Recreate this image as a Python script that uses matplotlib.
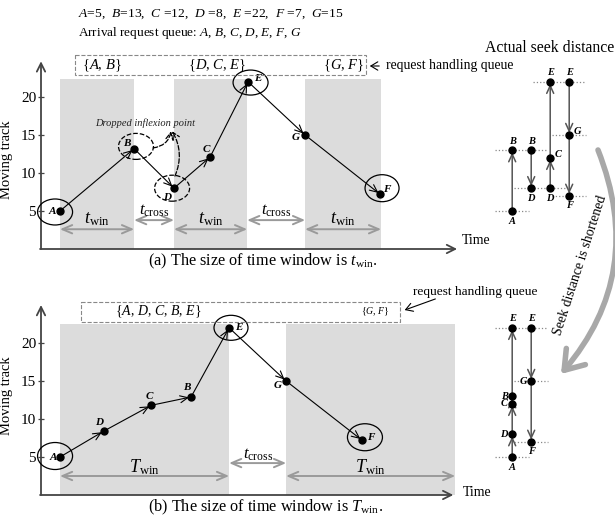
import matplotlib.pyplot as plt
import matplotlib.transforms as mtransforms
from matplotlib.patches import Ellipse, Rectangle, FancyArrowPatch

plt.rcParams['font.family'] = 'Liberation Serif'
plt.rcParams['mathtext.fontset'] = 'custom'
plt.rcParams['mathtext.rm'] = 'Liberation Serif'
plt.rcParams['mathtext.it'] = 'Liberation Serif:italic'
plt.rcParams['mathtext.bf'] = 'Liberation Serif:bold'

# request -> track
names = ['A', 'B', 'C', 'D', 'E', 'F', 'G']
tracks = [5, 13, 12, 8, 22, 7, 15]
track_of = dict(zip(names, tracks))

# (a) window size t_win
order_a = ['A', 'B', 'D', 'C', 'E', 'G', 'F']
time_a = [1, 4.9, 7, 8.9, 10.9, 13.9, 17.85]
track_a = [5, 13.2, 8, 12.1, 22, 15, 7.2]
windows_a = [(1, 4.9), (7, 10.85), (13.9, 17.9)]
win_top_a = 22.4
seek_a = [['A', 'B'], ['B', 'D'], ['D', 'C', 'E'], ['E', 'G', 'F']]
guides_a = ['A', 'B', 'D', 'E', 'G', 'F']

# (b) window size T_win
order_b = ['A', 'D', 'C', 'B', 'E', 'G', 'F']
time_b = [1, 3.3, 5.8, 7.9, 9.9, 12.9, 16.9]
track_b = [5, 8.4, 11.8, 12.9, 22, 15, 7.2]
windows_b = [(1, 9.9), (12.9, 21.8)]
win_top_b = 22.5
seek_b = [['A', 'D', 'C', 'B', 'E'], ['E', 'G', 'F']]
guides_b = ['E', 'G', 'F', 'A']

W, H = 615, 520
fig = plt.figure(figsize=(W / 100, H / 100), dpi=100)
px = mtransforms.Affine2D().scale(1 / W, -1 / H).translate(0, 1) + fig.transFigure

YTOP = 25.2
ax_a = fig.add_axes([41 / W, (H - 249) / H, 418 / W, YTOP * 7.6 / H])
ax_b = fig.add_axes([41 / W, (H - 495) / H, 418 / W, YTOP * 7.6 / H])
XU, YU = 19.0, 7.6  # pixels per data unit

GRAY = '#dcdcdc'
AX_COL = '#444444'


def setup(ax, arrow_y, arrow_x, label_y):
    ax.set_xlim(0, 22)
    ax.set_ylim(0, YTOP)
    for s in ax.spines.values():
        s.set_visible(False)
    ax.set_xticks([])
    ax.set_yticks([5, 10, 15, 20])
    ax.tick_params(axis='y', direction='inout', length=5, width=0.9,
                   color=AX_COL, labelsize=11, pad=1)
    ax.annotate('', xy=(0, arrow_y), xytext=(0, 0), annotation_clip=False,
                arrowprops=dict(arrowstyle='->,head_length=0.6,head_width=0.3',
                                lw=1.3, color=AX_COL, shrinkA=0, shrinkB=0))
    ax.annotate('', xy=(arrow_x, 0), xytext=(-0.05, 0), annotation_clip=False,
                arrowprops=dict(arrowstyle='->,head_length=0.6,head_width=0.3',
                                lw=1.3, color=AX_COL, shrinkA=0, shrinkB=0))
    ax.set_ylabel('Moving track', fontsize=10.5)
    ax.yaxis.set_label_coords(-0.066, label_y)


def draw_route(ax, xs, ys, order, offs):
    for i in range(len(xs) - 1):
        ax.annotate('', xy=(xs[i + 1], ys[i + 1]), xytext=(xs[i], ys[i]),
                    annotation_clip=False,
                    arrowprops=dict(arrowstyle='->,head_length=0.55,head_width=0.25',
                                    lw=0.8, color='black', shrinkA=0, shrinkB=1.5))
    ax.plot(xs, ys, 'o', color='black', ms=5, zorder=6, clip_on=False)
    for n, x, y in zip(order, xs, ys):
        dx, dy = offs[n]
        ax.annotate(n, (x, y), xytext=(dx, dy), textcoords='offset pixels',
                    ha='center', va='center', fontsize=8, fontstyle='italic',
                    fontweight='bold', annotation_clip=False)


def draw_seek(ax, cols, xcols, guides, mid_side):
    levels = {}
    for col, x in zip(cols, xcols):
        ys = [track_of[n] for n in col]
        for i in range(len(col) - 1):
            ax.annotate('', xy=(x, ys[i + 1]), xytext=(x, ys[i]),
                        annotation_clip=False,
                        arrowprops=dict(arrowstyle='->,head_length=0.55,head_width=0.25',
                                        lw=1.1, color='#555555', shrinkA=0, shrinkB=1.5))
        ax.plot([x] * len(ys), ys, 'o', color='black', ms=5, zorder=6, clip_on=False)
        hi = max(ys[0], ys[-1])
        for k, (n, y) in enumerate(zip(col, ys)):
            if k in (0, len(col) - 1):
                off = (0, 9) if y == hi else (0, -10)
            else:
                off = (8, 3) if mid_side == 'right' else (-8, 0)
            ax.annotate(n, (x, y), xytext=off, textcoords='offset pixels',
                        ha='center', va='center', fontsize=7.5, fontstyle='italic',
                        fontweight='bold', annotation_clip=False)
            if n in guides:
                levels.setdefault(n, []).append(x)
    for n, xl in levels.items():
        y = track_of[n]
        ax.plot([min(xl) - 0.9, max(xl) + 0.9], [y, y], ls=':', lw=0.9,
                color='#888888', clip_on=False)


def ellipse(ax, cx, cy, wpx, hpx, ls='-'):
    ax.add_patch(Ellipse((cx, cy), wpx / XU, hpx / YU, fill=False, lw=0.9,
                         ls=ls, ec='black', clip_on=False, zorder=7))


def span(ax, x0, x1, y):
    ax.annotate('', xy=(x1, y), xytext=(x0, y), annotation_clip=False,
                arrowprops=dict(arrowstyle='<->,head_length=0.7,head_width=0.3',
                                lw=1.4, color='#9a9a9a', shrinkA=0, shrinkB=0))


# ---------- (a) ----------
setup(ax_a, 24.7, 21.9, 0.465)
for x0, x1 in windows_a:
    ax_a.add_patch(Rectangle((x0, 0), x1 - x0, win_top_a, fc=GRAY, ec='none', zorder=0))
draw_route(ax_a, time_a, track_a, order_a,
           {'A': (-8, 0), 'B': (-7, 5), 'D': (-7, -9), 'C': (-4, 8),
            'E': (10, 3), 'G': (-9, -3), 'F': (7, 5)})
ellipse(ax_a, 0.74, 4.87, 35, 26)
ellipse(ax_a, 11.03, 21.9, 35, 25)
ellipse(ax_a, 17.95, 8.0, 34, 27)
ellipse(ax_a, 5.0, 13.5, 35, 26, '--')
ellipse(ax_a, 6.9, 8.0, 35, 26, '--')
ax_a.annotate('', xy=(6.85, 15.5), xytext=(5.9, 13.3), annotation_clip=False,
              arrowprops=dict(arrowstyle='->,head_length=0.5,head_width=0.25', lw=0.9,
                              ls='--', color='black', shrinkA=0, shrinkB=0,
                              connectionstyle='arc3,rad=0.35'))
ax_a.annotate('', xy=(6.9, 15.5), xytext=(7.05, 9.6), annotation_clip=False,
              arrowprops=dict(arrowstyle='->,head_length=0.5,head_width=0.25', lw=0.9,
                              ls='--', color='black', shrinkA=0, shrinkB=0,
                              connectionstyle='arc3,rad=0.25'))
ax_a.text(5.5, 16.6, 'Dropped inflexion point', fontsize=7.5, fontstyle='italic',
          ha='center', va='center', color='#222222')
for x0, x1 in windows_a:
    span(ax_a, x0, x1, 2.6)
    ax_a.text((x0 + x1) / 2, 3.9, r'$t_{\mathrm{win}}$', fontsize=13, ha='center', va='center')
for (a0, a1), (b0, b1) in zip(windows_a[:-1], windows_a[1:]):
    span(ax_a, a1, b0, 3.8)
    ax_a.text((a1 + b0) / 2, 5.0, r'$t_{\mathrm{cross}}$', fontsize=12, ha='center', va='center')
draw_seek(ax_a, seek_a, [24.8, 25.8, 26.8, 27.8], guides_a, 'right')

# ---------- (b) ----------
setup(ax_b, 25.0, 21.7, 0.52)
for x0, x1 in windows_b:
    ax_b.add_patch(Rectangle((x0, 0), x1 - x0, win_top_b, fc=GRAY, ec='none', zorder=0))
draw_route(ax_b, time_b, track_b, order_b,
           {'A': (-7, 0), 'D': (-5, 9), 'C': (-2, 9), 'B': (-4, 9),
            'E': (10, 0), 'G': (-8, -5), 'F': (9, 3)})
ellipse(ax_b, 0.74, 5.13, 35, 27)
ellipse(ax_b, 10.0, 22.0, 34, 25)
ellipse(ax_b, 17.05, 7.6, 35, 27)
for x0, x1 in windows_b:
    span(ax_b, x0, x1, 2.5)
    ax_b.text((x0 + x1) / 2, 3.7, r'$T_{\mathrm{win}}$', fontsize=13, ha='center', va='center')
span(ax_b, windows_b[0][1], windows_b[1][0], 4.2)
ax_b.text((windows_b[0][1] + windows_b[1][0]) / 2, 5.3, r'$t_{\mathrm{cross}}$',
          fontsize=12, ha='center', va='center')
draw_seek(ax_b, seek_b, [24.8, 25.8], guides_b, 'left')

# ---------- annotations in pixel space ----------
fig.text(78, 14, r'$A$=5,  $B$=13,  $C$ =12,  $D$ =8,  $E$ =22,  $F$ =7,  $G$=15',
         transform=px, fontsize=9.7, va='center')
fig.text(78, 33, r'Arrival request queue: $A$, $B$, $C$, $D$, $E$, $F$, $G$',
         transform=px, fontsize=9.5, va='center')

fig.add_artist(Rectangle((75, 55), 291, 20, transform=px, fill=False, ls='--',
                         lw=0.8, ec='#888888'))
for txt, x in zip([r'{$A$, $B$}', r'{$D$, $C$, $E$}', r'{$G$, $F$}'], [102, 217, 344]):
    fig.text(x, 66, txt, transform=px, fontsize=10.5, ha='center', va='center')
fig.add_artist(FancyArrowPatch((382, 66), (367, 66), transform=px,
                               arrowstyle='->,head_length=5,head_width=3', lw=0.8,
                               color='black'))
fig.text(386, 66, 'request handling queue', transform=px, fontsize=9.8, va='center')
fig.text(485, 48, 'Actual seek distance', transform=px, fontsize=11.3, va='center')
fig.text(462, 240, 'Time', transform=px, fontsize=10, va='center')
fig.text(263, 261, r'(a) The size of time window is $t_{\mathrm{win}}$.', transform=px,
         fontsize=11.7, ha='center', va='center')

fig.add_artist(Rectangle((81, 302), 319, 20, transform=px, fill=False, ls='--',
                         lw=0.8, ec='#888888'))
fig.text(158, 312, r'{$A$, $D$, $C$, $B$, $E$}', transform=px, fontsize=10,
         ha='center', va='center')
fig.text(375, 312, r'{$G$, $F$}', transform=px, fontsize=7, ha='center', va='center')
fig.add_artist(FancyArrowPatch((438, 298), (402, 311), transform=px,
                               arrowstyle='->,head_length=5,head_width=3', lw=0.8,
                               color='black'))
fig.text(413, 292, 'request handling queue', transform=px, fontsize=9.6, va='center')
fig.text(463, 492, 'Time', transform=px, fontsize=10, va='center')
fig.text(266, 507, r'(b) The size of time window is $T_{\mathrm{win}}$.', transform=px,
         fontsize=11.7, ha='center', va='center')

fig.add_artist(FancyArrowPatch((598, 150), (561, 374), transform=px,
                               connectionstyle='arc3,rad=-0.3',
                               arrowstyle='->,head_length=13,head_width=9', lw=4,
                               color='#a8a8a8', shrinkA=0, shrinkB=0))
fig.text(580, 265, 'Seek distance is shortened', transform=px, fontsize=10,
         rotation=72, ha='center', va='center', rotation_mode='anchor')

fig.savefig('out.png', dpi=100)
